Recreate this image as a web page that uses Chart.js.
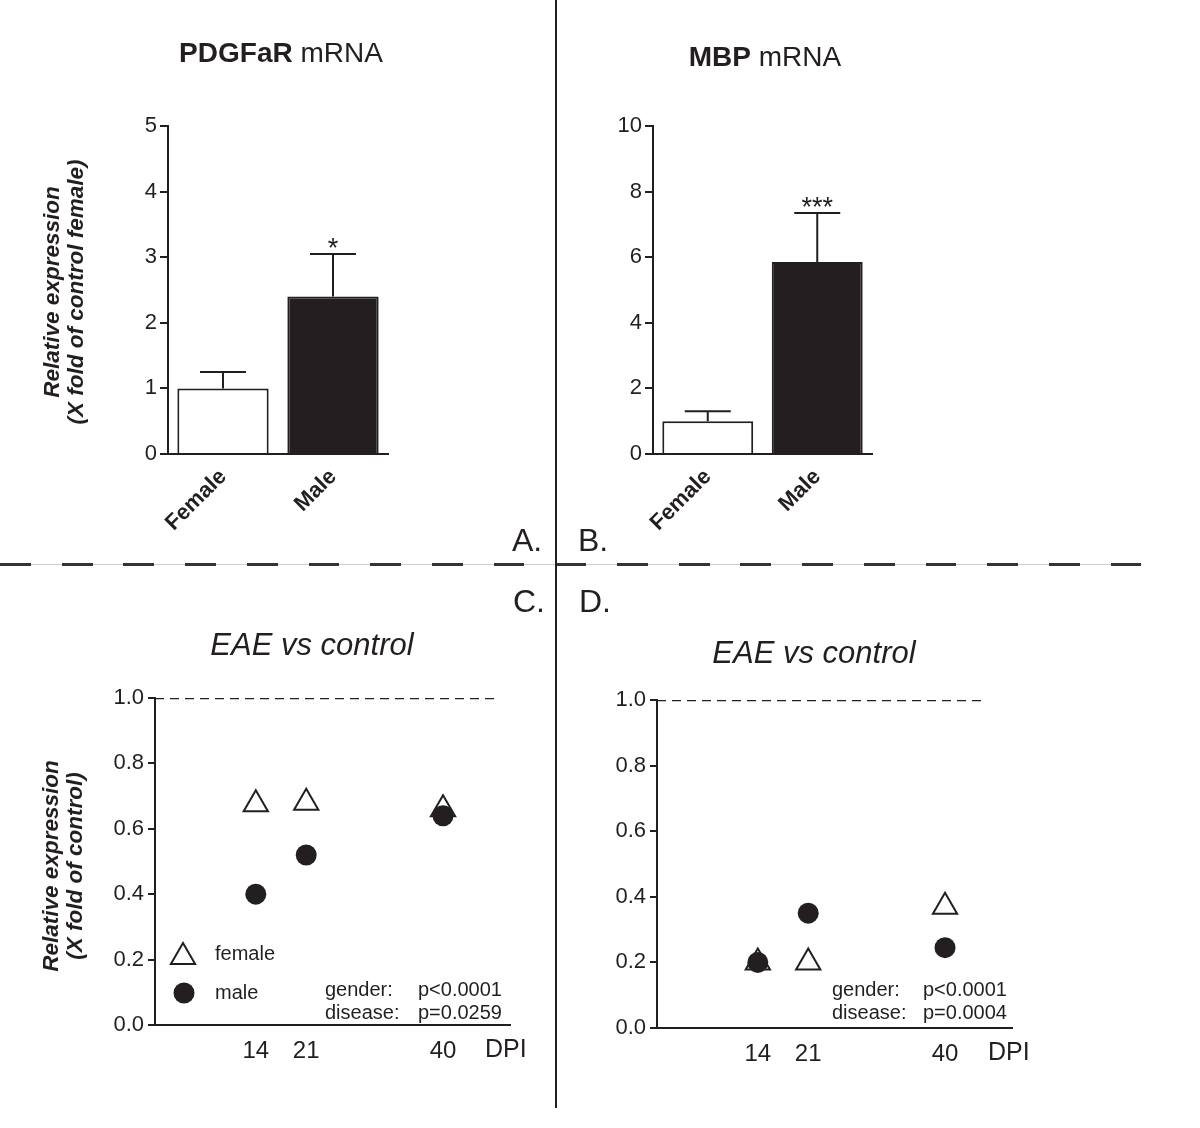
<!DOCTYPE html>
<html>
<head>
<meta charset="utf-8">
<title>PDGFaR / MBP mRNA</title>
<script src="https://cdn.jsdelivr.net/npm/chart.js@4.4.1/dist/chart.umd.min.js"></script>
<style>
  body { margin: 0; background: #fff; }
  #page { position: relative; width: 1200px; height: 1128px; background: #fff; overflow: hidden; }
  #page canvas { position: absolute; }
  .vline { position: absolute; left: 555px; top: 0; width: 2px; height: 1108px; background: #231f20; z-index: 2; }
  .hline { position: absolute; left: 0; top: 564px; width: 1142px; height: 1px; background: #d0d0d0; z-index: 2; }
  .hdash { position: absolute; left: 0; top: 563px; width: 1142px; height: 3px; z-index: 2;
           background: repeating-linear-gradient(to right, #333 0 30.85px, transparent 30.85px 61.7px); }
</style>
</head>
<body>
<div id="page">
  <canvas id="chartA" width="556" height="564" style="left:0;top:0"></canvas>
  <canvas id="chartB" width="644" height="564" style="left:556px;top:0"></canvas>
  <canvas id="chartC" width="556" height="564" style="left:0;top:564px"></canvas>
  <canvas id="chartD" width="644" height="564" style="left:556px;top:564px"></canvas>
  <div class="hline"></div>
  <div class="hdash"></div>
  <div class="vline"></div>
</div>
<script>
// ---- data ----
const barCategories = ['Female', 'Male'];
const pdgfMeans  = [1.0, 2.4];
const pdgfErrTop = [1.25, 3.05];
const pdgfStars  = ['', '*'];
const mbpMeans   = [1.0, 5.85];
const mbpErrTop  = [1.3, 7.35];
const mbpStars   = ['', '***'];

const dpiDays = [14, 21, 40];
const cFemale = [0.675, 0.68, 0.66];
const cMale   = [0.40, 0.52, 0.64];
const dFemale = [0.20, 0.20, 0.37];
const dMale   = [0.20, 0.35, 0.245];
const controlLevel = 1.0;
const refEndC = 47.6;
const refEndD = 45.3;

const statsC = [['gender:', 'p<0.0001'], ['disease:', 'p=0.0259']];
const statsD = [['gender:', 'p<0.0001'], ['disease:', 'p=0.0004']];

const INK = '#231f20';
const FONT = "'Liberation Sans', Arial, Helvetica, sans-serif";

// wanted chart area (page coords) -> padding + axis sizes
function fixArea(box, area) {
  return {
    padding: { top: area.top - box.top, right: box.left + box.width - area.right, left: 0, bottom: 0 },
    yWidth: area.left - box.left,
    xHeight: box.top + box.height - area.bottom
  };
}

function drawMarker(ctx, style, x, y, r) {
  ctx.beginPath();
  if (style === 'triangle') {
    for (let k = 0; k < 3; k++) {
      const a = k * 2 * Math.PI / 3;
      const px = x + Math.sin(a) * r, py = y - Math.cos(a) * r;
      if (k) ctx.lineTo(px, py); else ctx.moveTo(px, py);
    }
    ctx.closePath();
    ctx.fillStyle = '#fff'; ctx.fill();
    ctx.lineWidth = 2; ctx.strokeStyle = INK; ctx.stroke();
  } else {
    ctx.arc(x, y, r, 0, 2 * Math.PI);
    ctx.fillStyle = INK; ctx.fill();
  }
}

function drawItem(ctx, it) {
  ctx.fillStyle = INK;
  if (it.type === 'text') {
    ctx.font = it.font;
    ctx.textAlign = it.align || 'left';
    ctx.textBaseline = it.baseline || 'alphabetic';
    ctx.fillText(it.text, it.x, it.y);
  } else if (it.type === 'mixed') {
    let total = 0;
    it.parts.forEach(p => { ctx.font = p[1]; total += ctx.measureText(p[0]).width; });
    let x = it.x - total / 2;
    ctx.textAlign = 'left'; ctx.textBaseline = 'alphabetic';
    it.parts.forEach(p => { ctx.font = p[1]; ctx.fillText(p[0], x, it.y); x += ctx.measureText(p[0]).width; });
  } else if (it.type === 'vtext') {
    ctx.font = it.font;
    ctx.textAlign = 'center'; ctx.textBaseline = 'middle';
    it.lines.forEach((line, i) => {
      ctx.save();
      ctx.translate(it.x + i * it.dx, it.y);
      ctx.rotate(-Math.PI / 2);
      ctx.fillText(line, 0, 0);
      ctx.restore();
    });
  } else if (it.type === 'marker') {
    drawMarker(ctx, it.style, it.x, it.y, it.r);
  }
}

function decoPlugin(box, items) {
  return {
    id: 'deco',
    afterDraw(chart) {
      const ctx = chart.ctx;
      ctx.save();
      ctx.translate(-box.left, -box.top);
      items.forEach(it => drawItem(ctx, it));
      ctx.restore();
    }
  };
}

function errorBarPlugin(errTop, stars) {
  return {
    id: 'errorBars',
    afterDatasetsDraw(chart) {
      const ctx = chart.ctx, y = chart.scales.y;
      chart.getDatasetMeta(0).data.forEach((bar, i) => {
        const top = y.getPixelForValue(errTop[i]);
        ctx.save();
        ctx.strokeStyle = INK; ctx.lineWidth = 2;
        ctx.beginPath();
        ctx.moveTo(bar.x, bar.y); ctx.lineTo(bar.x, top);
        ctx.moveTo(bar.x - 23, top); ctx.lineTo(bar.x + 23, top);
        ctx.stroke();
        if (stars[i]) {
          ctx.fillStyle = INK;
          ctx.font = '27px ' + FONT;
          ctx.textAlign = 'center'; ctx.textBaseline = 'alphabetic';
          ctx.fillText(stars[i], bar.x, top + 3);
        }
        ctx.restore();
      });
    }
  };
}

function barPanel(id, box, area, means, errTop, stars, yMax, yStep, items) {
  const f = fixArea(box, area);
  return new Chart(document.getElementById(id), {
    type: 'bar',
    data: {
      labels: barCategories,
      datasets: [{
        data: means,
        backgroundColor: ['#ffffff', INK],
        borderColor: INK,
        borderWidth: 2,
        borderSkipped: 'start',
        categoryPercentage: 1,
        barPercentage: 0.83
      }]
    },
    options: {
      responsive: false, animation: false, devicePixelRatio: 1,
      layout: { padding: f.padding },
      plugins: { legend: { display: false }, tooltip: { enabled: false } },
      scales: {
        x: {
          grid: { display: false },
          border: { color: INK, width: 2 },
          ticks: { color: INK, font: { family: FONT, size: 22, weight: 'bold' }, minRotation: 45, maxRotation: 45, padding: 2 },
          afterFit: s => { s.height = f.xHeight; }
        },
        y: {
          min: 0, max: yMax,
          ticks: { stepSize: yStep, color: INK, font: { family: FONT, size: 22 }, padding: 3 },
          grid: { drawOnChartArea: false, color: INK, lineWidth: 2, tickLength: 8 },
          border: { color: INK, width: 2 },
          afterFit: s => { s.width = f.yWidth; }
        }
      }
    },
    plugins: [errorBarPlugin(errTop, stars), decoPlugin(box, items)]
  });
}

function scatterPanel(id, box, area, female, male, refEnd, items) {
  const f = fixArea(box, area);
  return new Chart(document.getElementById(id), {
    type: 'scatter',
    data: {
      datasets: [
        {
          label: 'male', order: 0,
          data: dpiDays.map((d, i) => ({ x: d, y: male[i] })),
          pointStyle: 'circle', pointRadius: 10.5, backgroundColor: INK, borderColor: INK, borderWidth: 0
        },
        {
          label: 'female', order: 1,
          data: dpiDays.map((d, i) => ({ x: d, y: female[i] })),
          pointStyle: 'triangle', pointRadius: 14, backgroundColor: '#ffffff', borderColor: INK, borderWidth: 2
        },
        {
          label: 'control', order: 2,
          data: [{ x: 0, y: controlLevel }, { x: refEnd, y: controlLevel }],
          showLine: true, pointRadius: 0, borderColor: INK, borderWidth: 2.5, borderDash: [9, 6]
        }
      ]
    },
    options: {
      responsive: false, animation: false, devicePixelRatio: 1,
      layout: { padding: f.padding },
      plugins: { legend: { display: false }, tooltip: { enabled: false } },
      scales: {
        x: {
          type: 'linear', min: 0, max: 49.3,
          grid: { display: false },
          border: { color: INK, width: 2 },
          ticks: { color: INK, font: { family: FONT, size: 24 }, padding: 4, autoSkip: false, maxRotation: 0 },
          afterBuildTicks: s => { s.ticks = dpiDays.map(v => ({ value: v })); },
          afterFit: s => { s.height = f.xHeight; }
        },
        y: {
          min: 0, max: 1,
          ticks: { stepSize: 0.2, color: INK, font: { family: FONT, size: 22 }, padding: 4, callback: v => v.toFixed(1) },
          grid: { drawOnChartArea: false, color: INK, lineWidth: 2, tickLength: 7 },
          border: { color: INK, width: 2 },
          afterFit: s => { s.width = f.yWidth; }
        }
      }
    },
    plugins: [decoPlugin(box, items)]
  });
}

const letterFont = '32px ' + FONT;
const statFont = '20px ' + FONT;
const yTitleFont = 'italic bold 22.5px ' + FONT;

function statItems(rows, xl, xp) {
  const out = [];
  rows.forEach((r, i) => {
    out.push({ type: 'text', text: r[0], x: xl, y: 990 + i * 23, font: statFont, baseline: 'middle' });
    out.push({ type: 'text', text: r[1], x: xp, y: 990 + i * 23, font: statFont, baseline: 'middle' });
  });
  return out;
}

// A
barPanel('chartA', { left: 0, top: 0, width: 556, height: 564 }, { left: 168, right: 388, top: 126, bottom: 454 },
  pdgfMeans, pdgfErrTop, pdgfStars, 5, 1, [
    { type: 'mixed', parts: [['PDGFaR', 'bold 28px ' + FONT], [' mRNA', '28px ' + FONT]], x: 281, y: 62 },
    { type: 'vtext', lines: ['Relative expression', '(X fold of control female)'], x: 53, dx: 24, y: 292, font: yTitleFont },
    { type: 'text', text: 'A.', x: 512, y: 551, font: letterFont }
  ]);

// B
barPanel('chartB', { left: 556, top: 0, width: 644, height: 564 }, { left: 653, right: 872, top: 126, bottom: 454 },
  mbpMeans, mbpErrTop, mbpStars, 10, 2, [
    { type: 'mixed', parts: [['MBP', 'bold 28px ' + FONT], [' mRNA', '28px ' + FONT]], x: 765, y: 66 },
    { type: 'text', text: 'B.', x: 578, y: 551, font: letterFont }
  ]);

// C
scatterPanel('chartC', { left: 0, top: 564, width: 556, height: 564 }, { left: 155, right: 510, top: 698, bottom: 1025 },
  cFemale, cMale, refEndC, [
    { type: 'text', text: 'C.', x: 513, y: 612, font: letterFont },
    { type: 'text', text: 'EAE vs control', x: 312, y: 655, font: 'italic 31px ' + FONT, align: 'center' },
    { type: 'vtext', lines: ['Relative expression', '(X fold of control)'], x: 52, dx: 24, y: 866, font: yTitleFont },
    { type: 'marker', style: 'triangle', x: 183, y: 957, r: 14 },
    { type: 'marker', style: 'circle', x: 184, y: 993, r: 10.5 },
    { type: 'text', text: 'female', x: 215, y: 954, font: '20px ' + FONT, baseline: 'middle' },
    { type: 'text', text: 'male', x: 215, y: 993, font: '20px ' + FONT, baseline: 'middle' },
    { type: 'text', text: 'DPI', x: 485, y: 1050, font: '25px ' + FONT, baseline: 'middle' }
  ].concat(statItems(statsC, 325, 418)));

// D
scatterPanel('chartD', { left: 556, top: 564, width: 644, height: 564 }, { left: 657, right: 1012, top: 700, bottom: 1028 },
  dFemale, dMale, refEndD, [
    { type: 'text', text: 'D.', x: 579, y: 612, font: letterFont },
    { type: 'text', text: 'EAE vs control', x: 814, y: 663, font: 'italic 31px ' + FONT, align: 'center' },
    { type: 'text', text: 'DPI', x: 988, y: 1053, font: '25px ' + FONT, baseline: 'middle' }
  ].concat(statItems(statsD, 832, 923)));
</script>
</body>
</html>
